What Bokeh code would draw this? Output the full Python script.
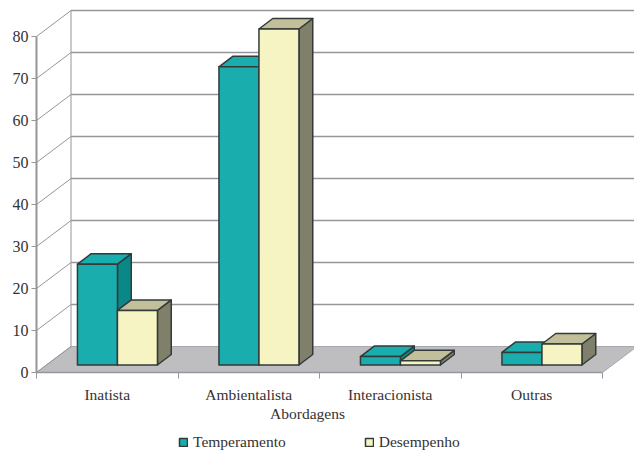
from bokeh.embed import file_html
from bokeh.resources import INLINE
from bokeh.plotting import figure
from bokeh.models import FixedTicker, Label, Legend, LegendItem, LinearAxis, Range1d

categories = ["Inatista", "Ambientalista", "Interacionista", "Outras"]
temperamento = [24, 71, 2, 3]
desempenho = [13, 80, 1, 5]
y_ticks = [0, 10, 20, 30, 40, 50, 60, 70, 80]

FONT = "Liberation Serif"
INK = "#333333"
WALL = "#96969a"
OUTLINE = "#333a3a"

# Scale of the plot: pixels per category and per value unit
PX_CAT = 141.5
PX_VAL = 4.2
# Page position of the axes' origin
ORIGIN_X = 36
ORIGIN_Y = 372

# Oblique projection of the chart box and of the bars inside it, in data units
WALL_DX = 34.5 / PX_CAT
WALL_DY = 26 / PX_VAL
BAR_SHIFT_X = 10.2 / PX_CAT
BAR_SHIFT_Y = 7.5 / PX_VAL
BAR_DX = 13.8 / PX_CAT
BAR_DY = 10.5 / PX_VAL
BAR_W = 40.0 / PX_CAT
N_CAT = len(categories)

# The frame fills the page, the axes sit inside it at the origin
p = figure(
    width=634, height=450, output_backend="svg", toolbar_location=None,
    x_range=Range1d(-ORIGIN_X / PX_CAT, (634 - ORIGIN_X) / PX_CAT),
    y_range=Range1d(-(450 - ORIGIN_Y) / PX_VAL, ORIGIN_Y / PX_VAL),
    x_axis_location=None, y_axis_location=None,
    min_border_left=0, min_border_right=0, min_border_top=0, min_border_bottom=0,
    background_fill_color="white", border_fill_color="white",
)
p.outline_line_color = None
p.grid.visible = False

# Floor of the box
p.patch([0, WALL_DX, N_CAT + WALL_DX, N_CAT], [0, WALL_DY, WALL_DY, 0],
        fill_color="#bebec0", line_color="#a9a9ad", line_width=1)

# Gridlines on the side wall and the back wall
for v in y_ticks:
    p.line([0, WALL_DX], [v, v + WALL_DY], line_color=WALL, line_width=1)
    if v > 0:
        p.line([WALL_DX, N_CAT + WALL_DX], [v + WALL_DY, v + WALL_DY],
               line_color=WALL, line_width=1.5)
p.line([WALL_DX, WALL_DX], [WALL_DY, y_ticks[-1] + WALL_DY], line_color=WALL, line_width=1)


def draw_bar(left, value, front, top, side):
    """One oblique bar: side and top faces, then the front face."""
    x0 = left
    x1 = left + BAR_W
    y0 = BAR_SHIFT_Y
    y1 = value + BAR_SHIFT_Y
    style = dict(line_color=OUTLINE, line_width=1.5, line_join="round")
    p.patch([x1, x1 + BAR_DX, x1 + BAR_DX, x1],
            [y0, y0 + BAR_DY, y1 + BAR_DY, y1], fill_color=side, **style)
    p.patch([x0, x0 + BAR_DX, x1 + BAR_DX, x1],
            [y1, y1 + BAR_DY, y1 + BAR_DY, y1], fill_color=top, **style)
    return p.quad(left=x0, right=x1, bottom=y0, top=y1, fill_color=front, **style)


swatches = {}
for i, (a, b) in enumerate(zip(temperamento, desempenho)):
    centre = i + 0.5 + BAR_SHIFT_X
    swatches["Temperamento"] = draw_bar(centre - BAR_W, a, "#1aadad", "#1aadad", "#0a8888")
    swatches["Desempenho"] = draw_bar(centre, b, "#f7f4c4", "#c2bf9b", "#80806a")

# Value axis
ya = LinearAxis(
    fixed_location=0, ticker=FixedTicker(ticks=y_ticks), bounds=(y_ticks[0], y_ticks[-1]),
    axis_line_color=WALL, axis_line_width=2,
    major_tick_line_color=WALL, major_tick_line_width=1, major_tick_out=5, major_tick_in=0,
    minor_tick_line_color=None,
    major_label_text_font=FONT, major_label_text_font_size="16px",
    major_label_text_color=INK, major_label_standoff=3,
)
p.add_layout(ya, "left")

# Category axis: names centred between the boundary ticks
xa = LinearAxis(
    fixed_location=0,
    ticker=FixedTicker(ticks=[i + 0.5 for i in range(N_CAT)],
                       minor_ticks=list(range(N_CAT + 1))),
    major_label_overrides={i + 0.5: c for i, c in enumerate(categories)},
    bounds=(0, N_CAT),
    axis_line_color=WALL, axis_line_width=1.5,
    major_tick_line_color=None, major_tick_in=0, major_tick_out=0,
    minor_tick_line_color=WALL, minor_tick_line_width=1, minor_tick_in=0, minor_tick_out=6,
    major_label_text_font=FONT, major_label_text_font_size="15.5px",
    major_label_text_color=INK, major_label_standoff=7,
)
p.add_layout(xa, "below")

p.add_layout(Label(x=(307 - ORIGIN_X) / PX_CAT, y=-40.5 / PX_VAL, text="Abordagens",
                   text_font=FONT, text_font_size="15.5px", text_color=INK,
                   text_align="center", text_baseline="middle"))

legend = Legend(
    items=[LegendItem(label=k, renderers=[r]) for k, r in swatches.items()],
    orientation="horizontal", location=(178, -1), spacing=78,
    glyph_width=10, glyph_height=10, label_standoff=5, label_height=14, margin=0, padding=2,
    border_line_color=None, background_fill_alpha=0,
    label_text_font=FONT, label_text_font_size="15.5px", label_text_color=INK,
)
p.add_layout(legend, "center")

open("out.html", "w").write(file_html(p, INLINE))
